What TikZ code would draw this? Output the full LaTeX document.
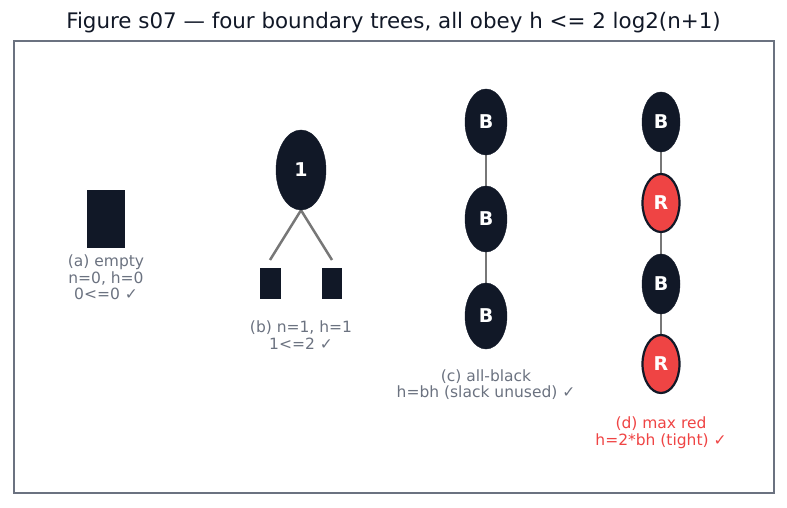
\documentclass[tikz,border=0pt]{standalone}
\usepackage{fontspec}
\setmainfont{DejaVu Sans}
\usetikzlibrary{shapes.geometric}
\pgfdeclarelayer{nodelayer}
\pgfdeclarelayer{edgelayer}
\pgfsetlayers{edgelayer,nodelayer,main}
\definecolor{navy}{HTML}{111827}
\definecolor{redfill}{HTML}{EF4444}
\definecolor{greytext}{HTML}{6B7280}
\definecolor{greyedge}{HTML}{777777}
\tikzstyle{black node}=[fill=navy, draw=navy, shape=ellipse, inner sep=0pt, text=white, font=\fontsize{19}{22}\selectfont\bfseries]
\tikzstyle{red node}=[fill=redfill, draw=navy, line width=2.2pt, shape=ellipse, inner sep=0pt, text=white, font=\fontsize{19}{22}\selectfont\bfseries]
\tikzstyle{leaf}=[fill=navy, draw=none, shape=rectangle, inner sep=0pt]
\tikzstyle{caption}=[align=center, text=greytext, font=\fontsize{15.5}{16.6}\selectfont]
\tikzstyle{tree edge}=[draw=greyedge, line width=2.5pt]
\begin{document}
\begin{tikzpicture}[x=1pt, y=-1pt]
	\useasboundingbox (0, 0) rectangle (787, 508);
	\draw [greytext, line width=1.3pt] (14, 41) rectangle (774, 493);
	\node [font=\fontsize{21.4}{24}\selectfont, text=navy] (title) at (393.5, 23) {Figure s07 — four boundary trees, all obey h <= 2 log2(n+1)};
	\begin{pgfonlayer}{nodelayer}
		% (a) empty tree
		\node [style=leaf, minimum width=38pt, minimum height=58pt] (0) at (106, 219) {};
		\node [style=caption] (1) at (106, 277.5) {(a) empty\\n=0, h=0\\0<=0 ✓};
		% (b) one node
		\node [style=black node, minimum width=50pt, minimum height=80pt] (2) at (301, 170) {1};
		\coordinate (3) at (270, 260);
		\coordinate (4) at (332, 260);
		\node [style=leaf, minimum width=21pt, minimum height=31pt] (5) at (270.5, 283.5) {};
		\node [style=leaf, minimum width=20pt, minimum height=31pt] (6) at (332, 283.5) {};
		\node [style=caption] (7) at (301, 335) {(b) n=1, h=1\\1<=2 ✓};
		% (c) all-black
		\node [style=black node, minimum width=42pt, minimum height=66pt] (8) at (486, 122) {B};
		\node [style=black node, minimum width=42pt, minimum height=66pt] (9) at (486, 219) {B};
		\node [style=black node, minimum width=42pt, minimum height=66pt] (10) at (486, 316) {B};
		\node [style=caption] (11) at (486, 384.5) {(c) all-black\\h=bh (slack unused) ✓};
		% (d) max red
		\node [style=black node, minimum width=38pt, minimum height=60pt] (12) at (661, 122) {B};
		\node [style=red node, minimum width=37pt, minimum height=58pt] (13) at (661, 203) {R};
		\node [style=black node, minimum width=38pt, minimum height=60pt] (14) at (661, 284) {B};
		\node [style=red node, minimum width=37pt, minimum height=58pt] (15) at (661, 364) {R};
		\node [style=caption, text=redfill] (16) at (661, 432.5) {(d) max red\\h=2*bh (tight) ✓};
	\end{pgfonlayer}
	\begin{pgfonlayer}{edgelayer}
		\draw [style=tree edge] (2.south) to (3);
		\draw [style=tree edge] (2.south) to (4);
		\draw [style=tree edge] (8) to (9);
		\draw [style=tree edge] (9) to (10);
		\draw [style=tree edge] (12) to (13);
		\draw [style=tree edge] (13) to (14);
		\draw [style=tree edge] (14) to (15);
	\end{pgfonlayer}
\end{tikzpicture}
\end{document}
